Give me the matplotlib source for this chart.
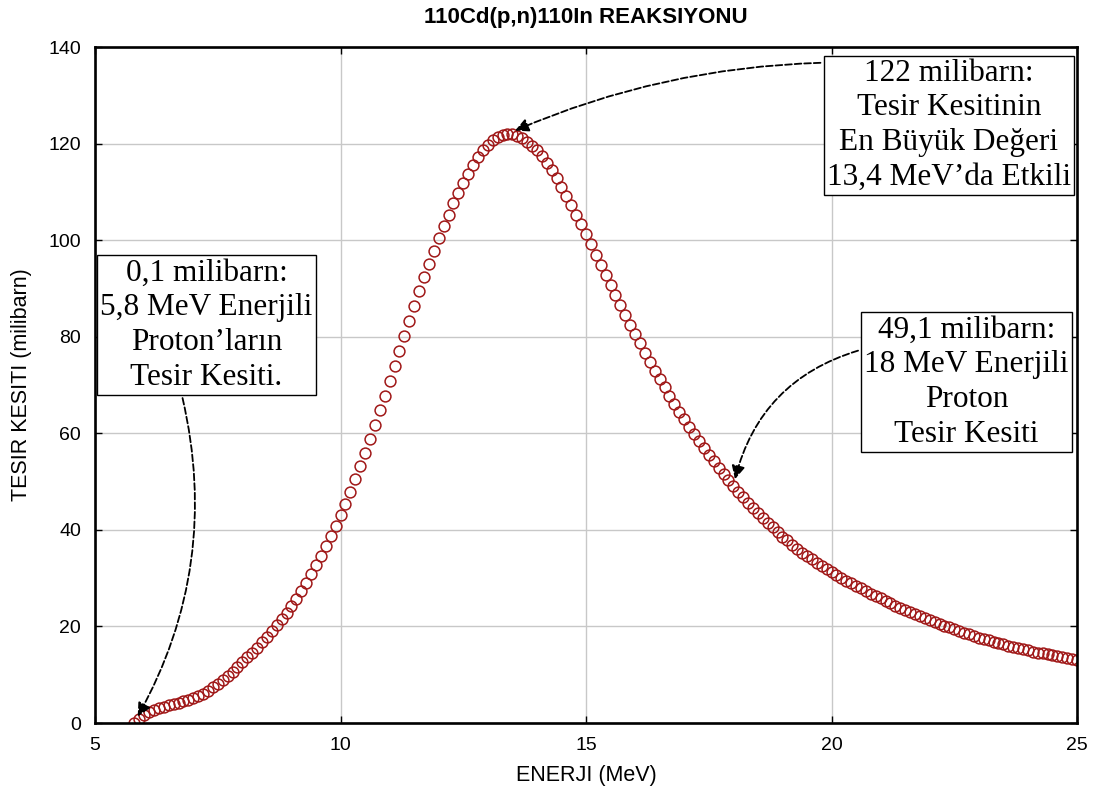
import numpy as np
import matplotlib.pyplot as plt

# enerji (MeV), 0.1 MeV adimlarla
energy = np.round(np.arange(5.8, 25.05, 0.1), 1)

# tesir kesiti (milibarn)
cross_section = [
    0.1, 0.9, 1.6, 2.2, 2.7, 3.1, 3.4, 3.7, 4.0, 4.2,          # 5.8 - 6.7
    4.5, 4.8, 5.1, 5.6, 6.1, 6.7, 7.4, 8.1, 8.9, 9.7,          # 6.8 - 7.7
    10.6, 11.6, 12.6, 13.6, 14.6, 15.6, 16.7, 17.8, 19.0, 20.2,  # 7.8 - 8.7
    21.5, 22.8, 24.2, 25.7, 27.3, 29.0, 30.8, 32.7, 34.6, 36.6,  # 8.8 - 9.7
    38.7, 40.8, 43.0, 45.4, 47.9, 50.5, 53.2, 56.0, 58.9, 61.8,  # 9.8 - 10.7
    64.8, 67.8, 70.9, 74.0, 77.1, 80.2, 83.3, 86.4, 89.4, 92.3,  # 10.8 - 11.7
    95.1, 97.8, 100.4, 102.9, 105.3, 107.6, 109.8, 111.9, 113.8, 115.6,  # 11.8 - 12.7
    117.2, 118.6, 119.8, 120.7, 121.4, 121.8, 122.0, 121.9, 121.6, 121.1,  # 12.8 - 13.7
    120.4, 119.6, 118.6, 117.4, 116.0, 114.5, 112.8, 111.0, 109.2, 107.3,  # 13.8 - 14.7
    105.3, 103.3, 101.2, 99.1, 97.0, 94.9, 92.8, 90.7, 88.6, 86.5,  # 14.8 - 15.7
    84.5, 82.5, 80.5, 78.6, 76.7, 74.8, 73.0, 71.2, 69.5, 67.8,  # 15.8 - 16.7
    66.1, 64.5, 62.9, 61.4, 59.9, 58.4, 57.0, 55.6, 54.2, 52.9,  # 16.8 - 17.7
    51.6, 50.3, 49.1, 47.9, 46.8, 45.6, 44.5, 43.5, 42.5, 41.5,  # 17.8 - 18.7
    40.5, 39.5, 38.6, 37.8, 36.9, 36.1, 35.3, 34.6, 33.9, 33.2,  # 18.8 - 19.7
    32.6, 31.9, 31.3, 30.7, 30.1, 29.5, 29.0, 28.4, 27.9, 27.4,  # 19.8 - 20.7
    26.8, 26.3, 25.8, 25.3, 24.8, 24.3, 23.9, 23.4, 23.0, 22.6,  # 20.8 - 21.7
    22.1, 21.7, 21.3, 20.9, 20.5, 20.1, 19.8, 19.4, 19.1, 18.7,  # 21.8 - 22.7
    18.4, 18.0, 17.7, 17.4, 17.1, 16.8, 16.6, 16.3, 16.0, 15.8,  # 22.8 - 23.7
    15.5, 15.3, 15.1, 14.8, 14.6, 14.4, 14.2, 14.0, 13.8, 13.6,  # 23.8 - 24.7
    13.4, 13.2, 13.0,                                            # 24.8 - 25.0
]

xticks = [5, 10, 15, 20, 25]
yticks = [0, 20, 40, 60, 80, 100, 120, 140]

plt.rcParams['font.family'] = ['Liberation Sans', 'DejaVu Sans']

fig = plt.figure(figsize=(11, 7.9), dpi=100)
ax = fig.add_axes([0.0864, 0.0848, 0.8927, 0.8557])

ax.plot(energy, cross_section, 'o', mfc='none', mec='#a01818', ms=7.8, mew=1.1)

ax.set_xlim(5, 25)
ax.set_ylim(0, 140)
ax.set_xticks(xticks)
ax.set_yticks(yticks)
ax.tick_params(direction='in', top=True, right=True, labelsize=14, length=5, width=1, pad=10)
ax.grid(True, color='#c8c8c8', linewidth=1)
for s in ax.spines.values():
    s.set_linewidth(1.9)
    s.set_color('black')

ax.set_title('110Cd(p,n)110In REAKSIYONU', fontsize=16, fontweight='bold', pad=17)
ax.set_xlabel('ENERJI (MeV)', fontsize=15.5, labelpad=8)
ax.set_ylabel('TESIR KESITI (milibarn)', fontsize=15.5, labelpad=12)

box = dict(boxstyle='square,pad=0.1', fc='white', ec='black', lw=1)
serif = ['Liberation Serif', 'DejaVu Serif']
txt = dict(ha='center', va='center', fontsize=22.5, family=serif, linespacing=1.26, bbox=box)

# en buyuk deger
i_max = int(np.argmax(cross_section))
ax.annotate('122 milibarn:\nTesir Kesitinin\nEn Büyük Değeri\n13,4 MeV’da Etkili',
            xy=(energy[i_max], cross_section[i_max]), xytext=(22.39, 123.8), **txt,
            arrowprops=dict(arrowstyle='-|>', ls='--', lw=1.3, color='black',
                            mutation_scale=20, relpos=(0, 0.97), shrinkB=6,
                            connectionstyle='arc3,rad=0.1'))

# 5.8 MeV
i_low = int(np.where(energy == 5.8)[0][0])
ax.annotate('0,1 milibarn:\n5,8 MeV Enerjili\nProton’ların\nTesir Kesiti.',
            xy=(energy[i_low], cross_section[i_low]), xytext=(7.27, 82.4), **txt,
            arrowprops=dict(arrowstyle='-|>', ls='--', lw=1.3, color='black',
                            mutation_scale=20, relpos=(0.38, 0), shrinkB=5,
                            connectionstyle='arc3,rad=-0.2'))

# 18 MeV
i_18 = int(np.where(energy == 18.0)[0][0])
ax.annotate('49,1 milibarn:\n18 MeV Enerjili\nProton\nTesir Kesiti',
            xy=(energy[i_18], cross_section[i_18]), xytext=(22.75, 70.6), **txt,
            arrowprops=dict(arrowstyle='-|>', ls='--', lw=1.3, color='black',
                            mutation_scale=20, relpos=(0, 0.75), shrinkB=5,
                            connectionstyle='arc3,rad=0.3'))

fig.savefig('out.png', dpi=100)
